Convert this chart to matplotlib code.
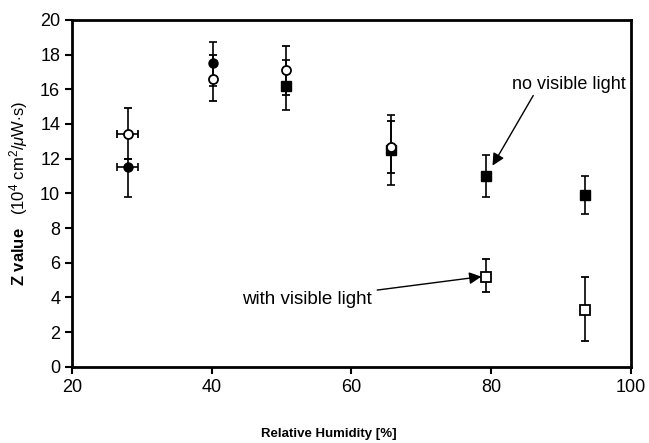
import matplotlib
matplotlib.use('Agg')
import matplotlib.pyplot as plt

plt.rcParams['font.family'] = ['Liberation Sans', 'DejaVu Sans']
plt.rcParams['mathtext.fontset'] = 'custom'
plt.rcParams['mathtext.rm'] = 'Liberation Sans'
plt.rcParams['mathtext.it'] = 'Liberation Sans:italic'
plt.rcParams['mathtext.bf'] = 'Liberation Sans:bold'

# Relative humidity of each measurement
humidity = [28.0, 40.2, 50.6, 65.6, 79.3, 93.4]
hum_err = [1.5, 0, 0, 0, 0, 0]

# no visible light (filled markers)
dark_z = [11.5, 17.5, 16.2, 12.5, 11.0, 9.9]
dark_lo = [9.8, 16.2, 14.8, 10.5, 9.8, 8.8]
dark_hi = [12.0, 18.7, 17.7, 14.5, 12.2, 11.0]
dark_marker = ['o', 'o', 's', 's', 's', 's']

# with visible light (open markers)
light_z = [13.4, 16.6, 17.1, 12.7, 5.2, 3.3]
light_lo = [12.0, 15.3, 15.7, 11.2, 4.3, 1.5]
light_hi = [14.9, 18.0, 18.5, 14.2, 6.2, 5.2]
light_marker = ['o', 'o', 'o', 'o', 's', 's']

fig = plt.figure(figsize=(6.49, 4.43), dpi=100)
ax = fig.add_axes([0.111, 0.172, 0.861, 0.783])

for i in range(len(humidity)):
    ax.errorbar(humidity[i], dark_z[i],
                yerr=[[dark_z[i] - dark_lo[i]], [dark_hi[i] - dark_z[i]]],
                xerr=hum_err[i] if hum_err[i] else None,
                fmt=dark_marker[i], color='black', mfc='black', mec='black',
                ms=6.5, ecolor='black', elinewidth=1.2, capsize=3, capthick=1.2)
    ax.errorbar(humidity[i], light_z[i],
                yerr=[[light_z[i] - light_lo[i]], [light_hi[i] - light_z[i]]],
                xerr=hum_err[i] if hum_err[i] else None,
                fmt=light_marker[i], color='black', mfc='white', mec='black',
                mew=1.3, ms=6.5, ecolor='black', elinewidth=1.2, capsize=3, capthick=1.2)

ax.annotate('no visible light', xy=(80.2, 11.6), xytext=(83.0, 15.8),
            fontsize=13, ha='left', va='bottom',
            arrowprops=dict(arrowstyle='-|>', color='black', lw=1, mutation_scale=18,
                            shrinkA=0, shrinkB=0, relpos=(0.2, 0)))
ax.annotate('with visible light', xy=(78.6, 5.2), xytext=(62.9, 3.9),
            fontsize=13.5, ha='right', va='center',
            arrowprops=dict(arrowstyle='-|>', color='black', lw=1, mutation_scale=18,
                            shrinkA=2, shrinkB=0))

ax.set_xlim(20, 100)
ax.set_ylim(0, 20)
ax.set_xticks([20, 40, 60, 80, 100])
ax.set_yticks(range(0, 21, 2))
ax.tick_params(labelsize=13, direction='out', length=5, width=1.5)
for s in ax.spines.values():
    s.set_linewidth(2)

ax.set_xlabel('Relative Humidity [%]', fontsize=9.5, fontweight='bold')
ax.xaxis.set_label_coords(0.46, -0.175)
ax.set_ylabel(r'$\mathbf{Z\ value}$   (10$^4$ cm$^2$/$\mu$W$\cdot$s)', fontsize=12)
ax.yaxis.set_label_coords(-0.076, 0.5)

fig.savefig('out.png', dpi=100)
